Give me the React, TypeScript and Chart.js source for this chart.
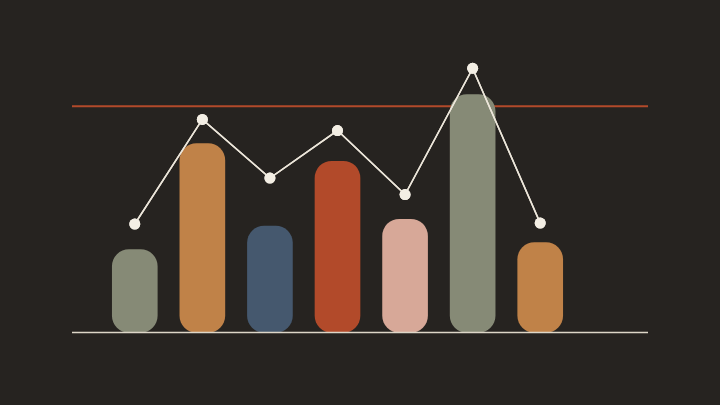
import { useEffect, useRef } from 'react'
import { Chart, registerables } from 'chart.js'
Chart.register(...registerables)

const categories = ['A', 'B', 'C', 'D', 'E', 'F', 'G']
const barValues = [27.6, 62.9, 35.4, 57, 37.7, 79.2, 29.9]
const lineValues = [36.1, 70.9, 51.4, 67.2, 45.9, 87.9, 36.4]
const targetValue = 75.3
const barColors = ['#868a76', '#c08248', '#45586e', '#b24a2a', '#d7a898', '#868a76', '#c08248']

const BG = '#262320'

// reference lines run wider than the plotted categories
const refLines = {
  id: 'refLines',
  beforeDatasetsDraw(chart: Chart) {
    const { ctx, width } = chart
    const y = chart.scales.y.getPixelForValue(targetValue)
    ctx.save()
    ctx.strokeStyle = '#b24a2a'
    ctx.lineWidth = 2
    ctx.beginPath()
    ctx.moveTo(width * 0.1, y)
    ctx.lineTo(width * 0.9, y)
    ctx.stroke()
    ctx.restore()
  },
  afterDatasetsDraw(chart: Chart) {
    const { ctx, width } = chart
    const y0 = chart.scales.y.getPixelForValue(0)
    ctx.save()
    ctx.strokeStyle = '#ddd6c8'
    ctx.lineWidth = 1.5
    ctx.beginPath()
    ctx.moveTo(width * 0.1, y0)
    ctx.lineTo(width * 0.9, y0)
    ctx.stroke()
    // redraw line dataset above the baseline
    const meta = chart.getDatasetMeta(1)
    meta.controller.draw()
    ctx.restore()
  },
}

export default function App() {
  const chartRef = useRef<HTMLCanvasElement>(null)
  const chartInstance = useRef<Chart | null>(null)

  useEffect(() => {
    if (!chartRef.current) return
    if (chartInstance.current) chartInstance.current.destroy()
    const ctx = chartRef.current.getContext('2d')
    if (!ctx) return

    chartInstance.current = new Chart(ctx, {
      type: 'bar',
      data: {
        labels: categories,
        datasets: [
          {
            type: 'bar',
            data: barValues,
            backgroundColor: barColors,
            borderRadius: 17,
            borderSkipped: false,
            barThickness: 45,
            order: 2,
          },
          {
            type: 'line',
            data: lineValues,
            borderColor: '#ece6da',
            borderWidth: 1.5,
            pointRadius: 5.5,
            pointBackgroundColor: '#f3eee4',
            pointBorderColor: '#f3eee4',
            pointBorderWidth: 0,
            tension: 0,
            order: 1,
          },
        ],
      },
      options: {
        responsive: true,
        maintainAspectRatio: false,
        animation: false,
        layout: {
          padding: { left: 101, right: 146, top: 32, bottom: 72.5 },
        },
        plugins: {
          legend: { display: false },
          tooltip: { enabled: false },
        },
        scales: {
          x: { display: false },
          y: { display: false, min: 0, max: 100 },
        },
      },
      plugins: [refLines],
    })

    return () => {
      if (chartInstance.current) {
        chartInstance.current.destroy()
        chartInstance.current = null
      }
    }
  }, [])

  return (
    <div style={{ position: 'fixed', left: 0, top: 0, width: 720, height: 405, background: BG }}>
      <canvas ref={chartRef} />
    </div>
  )
}
